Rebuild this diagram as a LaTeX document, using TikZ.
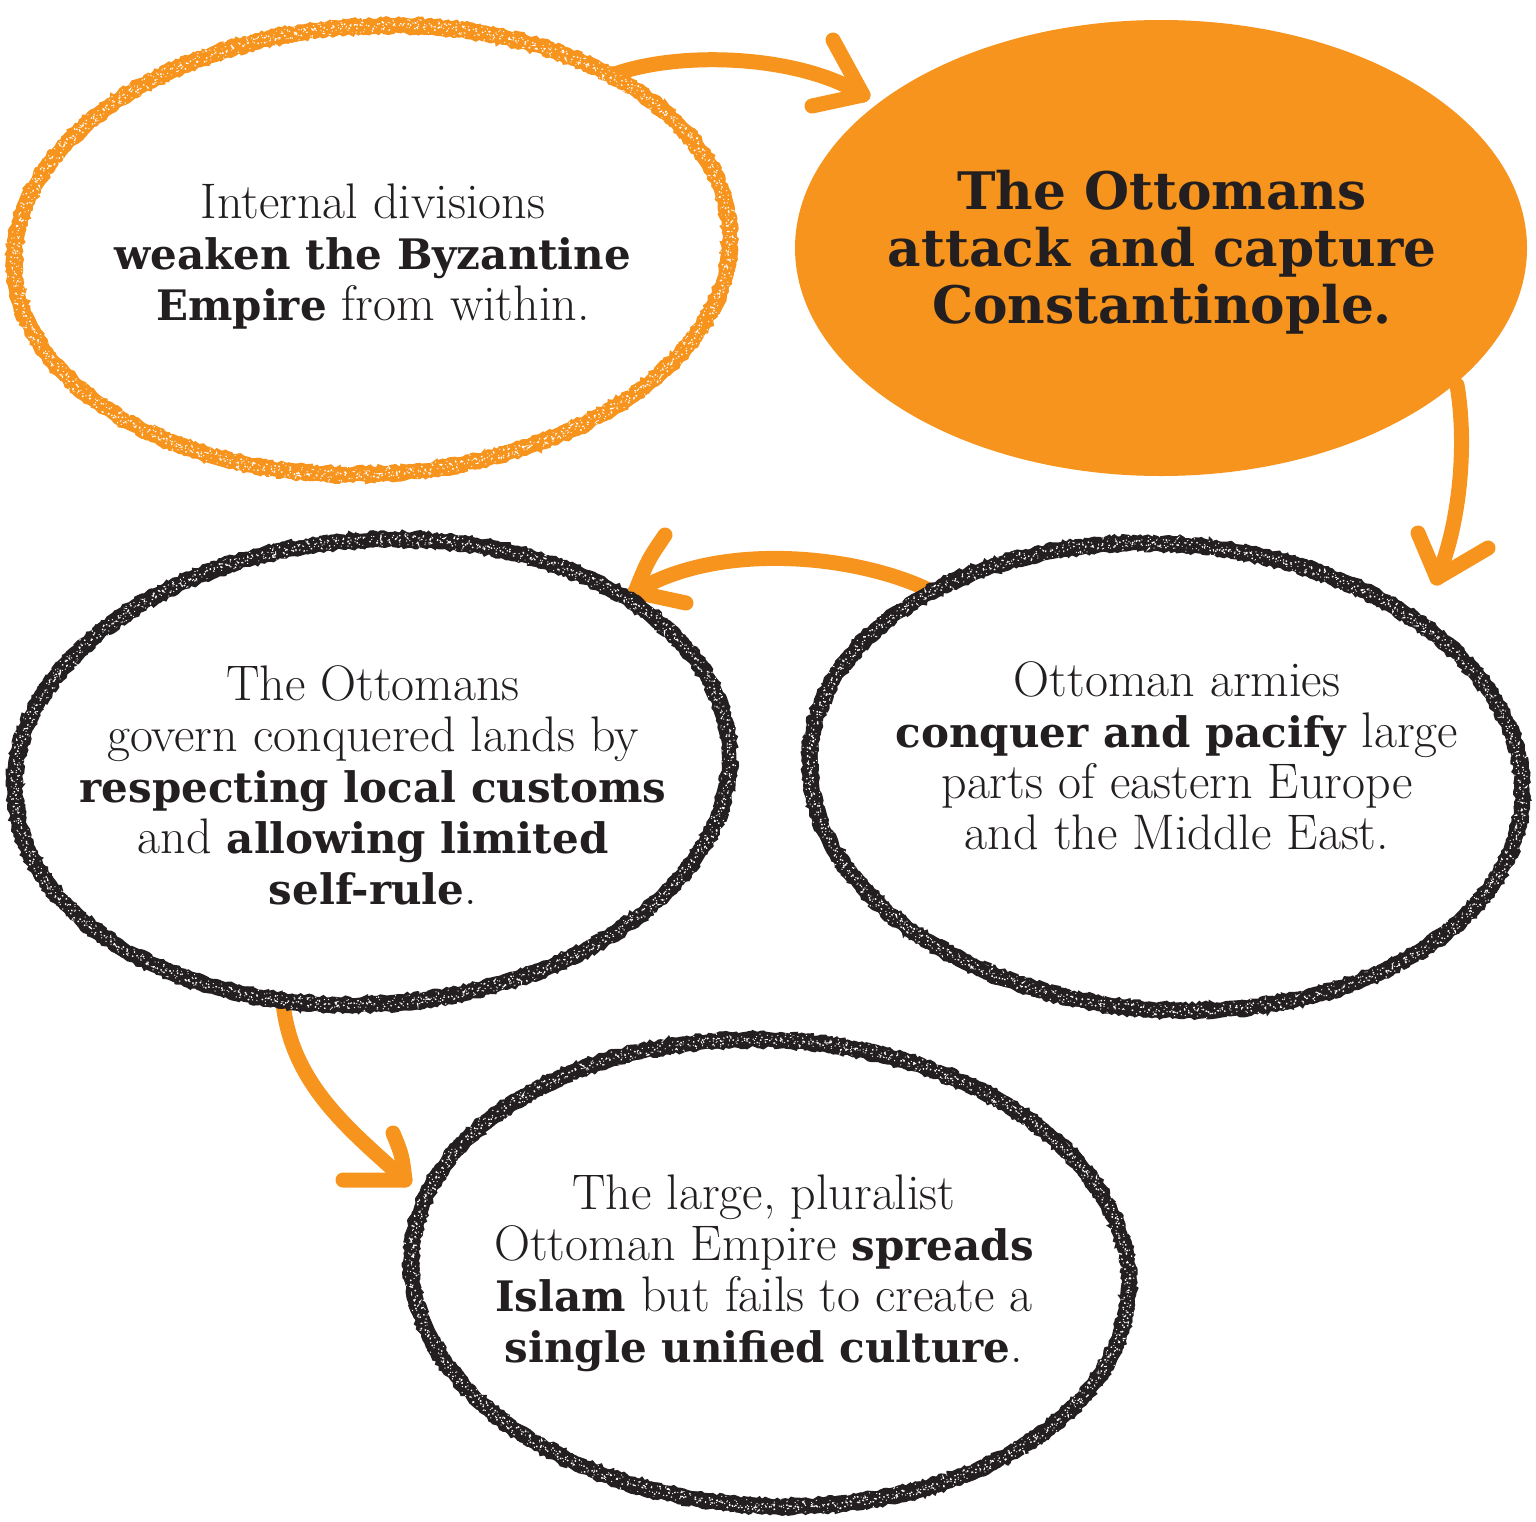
\documentclass[tikz,border=0pt]{standalone}
\usepackage{fontspec}
\setmainfont{Latin Modern Roman}[BoldFont={DejaVu Serif Bold}, BoldFeatures={Scale=0.84}]
\usetikzlibrary{decorations.pathmorphing,shapes.geometric}
\definecolor{orng}{HTML}{F7941D}
\definecolor{ink}{HTML}{231F20}
\newcommand\crayell[7]{%
  \pgfmathsetseed{#7}%
  \begin{scope}[rotate around={#6:(#2,#3)}]
  \draw[#1, line width=7pt, decorate, decoration={random steps, segment length=3pt, amplitude=0.8pt}] (#2,#3) ellipse [x radius=#4, y radius=#5];
  \draw[#1, line width=1.5pt, decorate, decoration={random steps, segment length=1.6pt, amplitude=0.9pt}] (#2,#3) ellipse [x radius=#4+6.5, y radius=#5+6.5];
  \draw[#1, line width=1.5pt, decorate, decoration={random steps, segment length=1.6pt, amplitude=0.9pt}] (#2,#3) ellipse [x radius=#4-6.5, y radius=#5-6.5];
  \draw[white, line width=0.7pt, dash pattern=on 0.7pt off 3.1pt, decorate, decoration={random steps, segment length=1.3pt, amplitude=2.6pt}] (#2,#3) ellipse [x radius=#4, y radius=#5];
  \draw[white, line width=0.5pt, dash pattern=on 0.5pt off 4.3pt, decorate, decoration={random steps, segment length=1.1pt, amplitude=2.8pt}] (#2,#3) ellipse [x radius=#4+2, y radius=#5+2];
  \draw[white, line width=0.45pt, dash pattern=on 0.45pt off 3.7pt, decorate, decoration={random steps, segment length=1.2pt, amplitude=3pt}] (#2,#3) ellipse [x radius=#4-2, y radius=#5-2];
  \end{scope}}
\tikzset{
  txt/.style={align=center, text=ink, font=\fontsize{25pt}{25.5pt}\selectfont, inner sep=0pt},
  ttl/.style={align=center, text=ink, font=\fontsize{30.8pt}{28.5pt}\selectfont\bfseries, inner sep=0pt},
  arr/.style={draw=orng, line width=7.5pt, line cap=round, line join=round},
}
\begin{document}
\begin{tikzpicture}[x=0.5pt, y=-0.5pt]
\fill[white] (0,0) rectangle (1536,1521);
\useasboundingbox (0,0) rectangle (1536,1521);

% filled orange ellipse
\fill[orng] (1161,248) ellipse [x radius=366, y radius=228];

% text nodes
\node[txt] (n1) at (373,257) {Internal divisions\\\textbf{weaken the Byzantine}\\\textbf{Empire} from within.};
\node[ttl] (n2) at (1162,252) {The Ottomans\\attack and capture\\Constantinople.};
\node[txt] (n3) at (373,785) {The Ottomans\\govern conquered lands by\\\textbf{respecting local customs}\\and \textbf{allowing limited}\\\textbf{self-rule}.};
\node[txt] (n4) at (1177,756) {Ottoman armies\\\textbf{conquer and pacify} large\\parts of eastern Europe\\and the Middle East.};
\node[txt] (n5) at (764,1273) {The large, pluralist\\Ottoman Empire \textbf{spreads}\\\textbf{Islam} but fails to create a\\\textbf{single unified culture}.};

% connector end points
\coordinate (a1s) at (612,75);  \coordinate (a1t) at (863,95);
\coordinate (a1u) at (833,40);  \coordinate (a1l) at (812,106);
\coordinate (a2s) at (1457,385); \coordinate (a2t) at (1437,578);
\coordinate (a2u) at (1418,533); \coordinate (a2l) at (1488,548);
\coordinate (a3s) at (933,592); \coordinate (a3t) at (635,592);
\coordinate (a3u) at (665,535); \coordinate (a3l) at (686,603);
\coordinate (a4s) at (283,1003); \coordinate (a4t) at (405,1180);
\coordinate (a4u) at (393,1133); \coordinate (a4l) at (343,1180);

% arrows
\draw[arr] (a1s) .. controls (680,50) and (800,55) .. (a1t);
\draw[arr] (a1u) .. controls (845,62) .. (a1t) -- (a1l);
\draw[arr] (a2s) .. controls (1468,450) and (1458,530) .. (a2t);
\draw[arr] (a2u) .. controls (1428,555) .. (a2t) -- (a2l);
\draw[arr] (a3s) .. controls (860,555) and (720,540) .. (a3t);
\draw[arr] (a3u) .. controls (648,560) .. (a3t) -- (a3l);
\draw[arr] (a4s) .. controls (292,1085) and (350,1130) .. (a4t);
\draw[arr] (a4u) .. controls (402,1155) .. (a4t) -- (a4l);

% crayon outlines
\crayell{orng}{372}{250}{358}{224}{3}{11}
\crayell{ink}{372}{772}{358}{232}{4}{23}
\crayell{ink}{1166}{777}{357}{233}{-4}{37}
\crayell{ink}{770}{1273}{359}{233}{-3}{51}
\end{tikzpicture}
\end{document}
